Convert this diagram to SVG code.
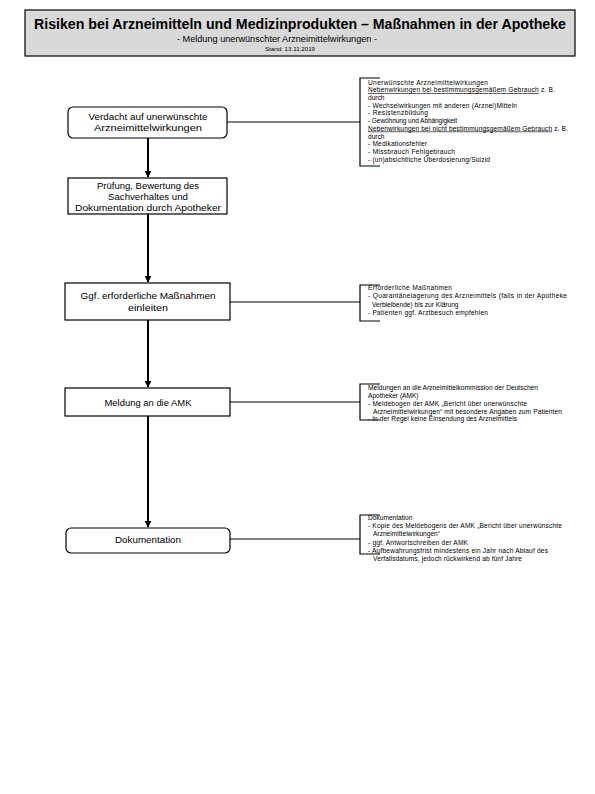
<svg xmlns="http://www.w3.org/2000/svg" width="595" height="794" viewBox="0 0 595 794">
<style>
.box{fill:#fff;stroke:#000;stroke-width:1.2}
.nt{font-family:"Liberation Sans",Arial,sans-serif;font-size:8.5px;fill:#000;text-anchor:middle}
.st{font-family:"Liberation Sans",Arial,sans-serif;font-size:6.6px;fill:#000}
.u{text-decoration:underline}
.conn{stroke:#000;stroke-width:1;fill:none}
.arr{stroke:#000;stroke-width:2;fill:none}
.br{stroke:#000;stroke-width:1.2;fill:none}
</style>
<defs>
<marker id="ah" viewBox="0 0 10 10" refX="9" refY="5" markerWidth="3.5" markerHeight="3.5" orient="auto" markerUnits="strokeWidth">
<path d="M0,0 L10,5 L0,10 Z" fill="#000"/>
</marker>
</defs>
<rect width="595" height="794" fill="#fff"/>
<g id="header">
<rect x="25" y="10" width="550" height="46" fill="#d9d9d9" stroke="#000" stroke-width="1.2"/>
<text x="300" y="28.5" font-family="Liberation Sans,Arial,sans-serif" font-size="14.5" font-weight="bold" text-anchor="middle" textLength="532" lengthAdjust="spacingAndGlyphs">Risiken bei Arzneimitteln und Medizinprodukten – Maßnahmen in der Apotheke</text>
<text x="277" y="42" font-family="Liberation Sans,Arial,sans-serif" font-size="8.5" text-anchor="middle" textLength="200" lengthAdjust="spacingAndGlyphs">- Meldung unerwünschter Arzneimittelwirkungen -</text>
<text x="290" y="51" font-family="Liberation Sans,Arial,sans-serif" font-size="6.2" text-anchor="middle">Stand: 13.11.2019</text>
</g>
<g id="connectors">
<line class="arr" x1="148" y1="138" x2="148" y2="177" marker-end="url(#ah)"/>
<line class="arr" x1="148" y1="214" x2="148" y2="282" marker-end="url(#ah)"/>
<line class="arr" x1="148" y1="320" x2="148" y2="387" marker-end="url(#ah)"/>
<line class="arr" x1="148" y1="416" x2="148" y2="527" marker-end="url(#ah)"/>
<line class="conn" x1="227" y1="122" x2="360" y2="122"/>
<line class="conn" x1="230" y1="302" x2="360" y2="302"/>
<line class="conn" x1="230" y1="402" x2="360" y2="402"/>
<line class="conn" x1="230" y1="539" x2="360" y2="539"/>
</g>
<g id="n1">
<rect class="box" x="68" y="107" width="159" height="31" rx="5"/>
<text class="nt" x="148" y="120" textLength="119" lengthAdjust="spacingAndGlyphs">Verdacht auf unerwünschte</text>
<text class="nt" x="148" y="131" textLength="108" lengthAdjust="spacingAndGlyphs">Arzneimittelwirkungen</text>
</g>
<g id="n2">
<rect class="box" x="68" y="178" width="159" height="36"/>
<text class="nt" x="148" y="189" textLength="102" lengthAdjust="spacingAndGlyphs">Prüfung, Bewertung des</text>
<text class="nt" x="148" y="200" textLength="80" lengthAdjust="spacingAndGlyphs">Sachverhaltes und</text>
<text class="nt" x="148" y="211" textLength="146" lengthAdjust="spacingAndGlyphs">Dokumentation durch Apotheker</text>
</g>
<g id="n3">
<rect class="box" x="65" y="283" width="165" height="37"/>
<text class="nt" x="148" y="299" textLength="135" lengthAdjust="spacingAndGlyphs">Ggf. erforderliche Maßnahmen</text>
<text class="nt" x="148" y="311" textLength="40" lengthAdjust="spacingAndGlyphs">einleiten</text>
</g>
<g id="n4">
<rect class="box" x="65" y="388" width="165" height="28"/>
<text class="nt" x="148" y="406" textLength="87" lengthAdjust="spacingAndGlyphs">Meldung an die AMK</text>
</g>
<g id="n5">
<rect class="box" x="66" y="528" width="164" height="25" rx="5"/>
<text class="nt" x="148" y="543" textLength="66" lengthAdjust="spacingAndGlyphs">Dokumentation</text>
</g>
<g id="note1">
<path class="br" d="M380,78 H360 V166 H380"/>
<text class="st" x="368" y="84.5" textLength="120" lengthAdjust="spacing">Unerwünschte Arzneimittelwirkungen</text>
<text class="st" x="368" y="92" textLength="187" lengthAdjust="spacing"><tspan class="u">Nebenwirkungen bei bestimmungsgemäßem Gebrauch</tspan> z. B.</text>
<text class="st" x="368" y="99.5">durch</text>
<text class="st" x="368" y="107.5" textLength="149" lengthAdjust="spacing">- Wechselwirkungen mit anderen (Arznei)Mitteln</text>
<text class="st" x="368" y="115" textLength="60" lengthAdjust="spacing">- Resistenzbildung</text>
<text class="st" x="368" y="123" textLength="89" lengthAdjust="spacing">- Gewöhnung und Abhängigkeit</text>
<text class="st" x="368" y="130.5" textLength="200" lengthAdjust="spacing"><tspan class="u">Nebenwirkungen bei nicht bestimmungsgemäßem Gebrauch</tspan> z. B.</text>
<text class="st" x="368" y="138.5">durch</text>
<text class="st" x="368" y="146" textLength="59" lengthAdjust="spacing">- Medikationsfehler</text>
<text class="st" x="368" y="154" textLength="87" lengthAdjust="spacing">- Missbrauch Fehlgebrauch</text>
<text class="st" x="368" y="161.5" textLength="122" lengthAdjust="spacing">- (un)absichtliche Überdosierung/Suizid</text>
</g>
<g id="note2">
<path class="br" d="M380,285 H360 V321 H380"/>
<text class="st" x="368" y="290" textLength="84" lengthAdjust="spacing">Erforderliche Maßnahmen</text>
<text class="st" x="368" y="298" textLength="199" lengthAdjust="spacing">- Quarantänelagerung des Arzneimittels (falls in der Apotheke</text>
<text class="st" x="372" y="306.5">Verbleibende) bis zur Klärung</text>
<text class="st" x="368" y="315" textLength="120" lengthAdjust="spacing">- Patienten ggf. Arztbesuch empfehlen</text>
</g>
<g id="note3">
<path class="br" d="M380,384 H360 V420 H380"/>
<text class="st" x="368" y="389.5" textLength="170" lengthAdjust="spacing">Meldungen an die Arzneimittelkommission der Deutschen</text>
<text class="st" x="368" y="397.5">Apotheker (AMK)</text>
<text class="st" x="368" y="405.5" textLength="159" lengthAdjust="spacing">- Meldebogen der AMK „Bericht über unerwünschte</text>
<text class="st" x="373" y="413.5" textLength="189" lengthAdjust="spacing">Arzneimittelwirkungen“ mit besondere Angaben zum Patienten</text>
<text class="st" x="368" y="421" textLength="149" lengthAdjust="spacing">- In der Regel keine Einsendung des Arzneimittels</text>
</g>
<g id="note4">
<path class="br" d="M380,515 H360 V554 H380"/>
<text class="st" x="368" y="520">Dokumentation</text>
<text class="st" x="368" y="528" textLength="194" lengthAdjust="spacing">- Kopie des Meldebogens der AMK „Bericht über unerwünschte</text>
<text class="st" x="373" y="536" textLength="67" lengthAdjust="spacing">Arzneimittelwirkungen“</text>
<text class="st" x="368" y="544.5" textLength="100" lengthAdjust="spacing">- ggf. Antwortschreiben der AMK</text>
<text class="st" x="368" y="552.5" textLength="180" lengthAdjust="spacing">- Aufbewahrungsfrist mindestens ein Jahr nach Ablauf des</text>
<text class="st" x="373" y="560.5" textLength="149" lengthAdjust="spacing">Verfallsdatums, jedoch rückwirkend ab fünf Jahre</text>
</g>
</svg>
